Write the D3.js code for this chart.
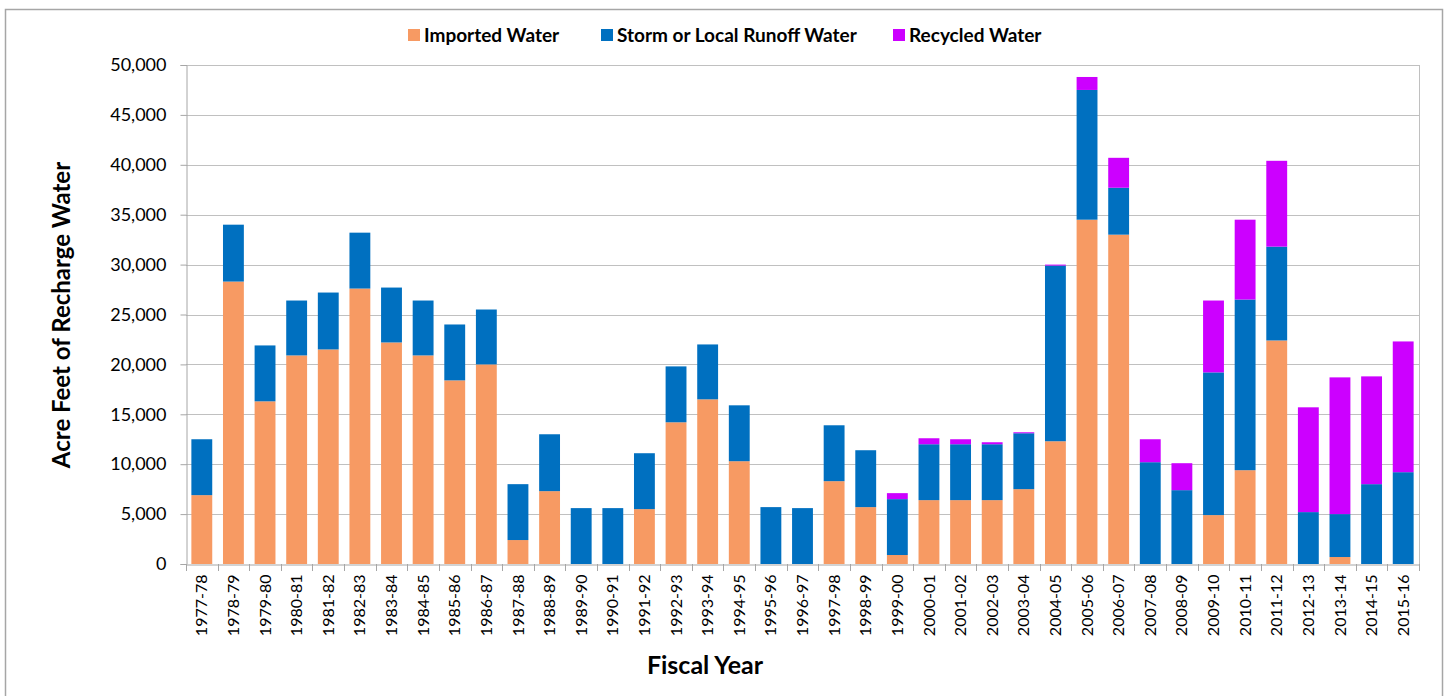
<!DOCTYPE html>
<html>
<head>
<meta charset="utf-8">
<script src="https://cdn.jsdelivr.net/npm/d3@7"></script>
<style>
  body { margin: 0; background: #fff; }
  svg { display: block; font-family: Lato, "Open Sans", sans-serif; }
</style>
</head>
<body>
<div id="chart"></div>
<script>
// fiscal years on the x axis
var years = ["1977-78","1978-79","1979-80","1980-81","1981-82","1982-83","1983-84","1984-85",
  "1985-86","1986-87","1987-88","1988-89","1989-90","1990-91","1991-92","1992-93","1993-94",
  "1994-95","1995-96","1996-97","1997-98","1998-99","1999-00","2000-01","2001-02","2002-03",
  "2003-04","2004-05","2005-06","2006-07","2007-08","2008-09","2009-10","2010-11","2011-12",
  "2012-13","2013-14","2014-15","2015-16"];

// acre feet
var imported = [6900,28300,16300,20900,21500,27600,22200,20900,18400,20000,2400,7300,0,0,5500,
  14200,16500,10300,0,0,8300,5700,900,6400,6400,6400,7500,12300,34500,33000,0,0,4900,9400,22400,
  0,700,0,0];
var storm = [5600,5700,5600,5500,5700,5600,5500,5500,5600,5500,5600,5700,5600,5600,5600,5600,5500,
  5600,5700,5600,5600,5700,5600,5600,5600,5600,5600,17600,13000,4700,10200,7400,14300,17100,9400,
  5200,4300,8000,9200];
var recycled = [0,0,0,0,0,0,0,0,0,0,0,0,0,0,0,0,0,0,0,0,0,0,600,600,500,200,100,100,1300,3000,
  2300,2700,7200,8000,8600,10500,13700,10800,13100];

var seriesNames = ["Imported Water", "Storm or Local Runoff Water", "Recycled Water"];
var colors = ["#F79A63", "#0070C0", "#CC00FF"];
var yTicks = [0,5000,10000,15000,20000,25000,30000,35000,40000,45000,50000];

var W = 1445, H = 696;
var plotL = 186, plotR = 1419, plotT = 65, plotB = 564;

var svg = d3.select("#chart").append("svg")
    .attr("width", W)
    .attr("height", H);

// outer frame
svg.append("rect")
    .attr("x", 5.5).attr("y", 9.5)
    .attr("width", 1437).attr("height", 700)
    .attr("fill", "#fff")
    .attr("stroke", "#a6a6a6")
    .attr("stroke-width", 1.5);

var x = d3.scaleBand().domain(years).range([plotL, plotR]).paddingInner(0.34).paddingOuter(0.17);
var y = d3.scaleLinear().domain([0, 50000]).range([plotB, plotT]);

// gridlines
svg.append("g").selectAll("line")
    .data(yTicks.slice(1))
    .enter().append("line")
    .attr("x1", plotL).attr("x2", plotR)
    .attr("y1", function(d) { return Math.round(y(d)) + 0.5; })
    .attr("y2", function(d) { return Math.round(y(d)) + 0.5; })
    .attr("stroke", "#c0c0c0");

// right border of plot
svg.append("line")
    .attr("x1", plotR + 0.5).attr("x2", plotR + 0.5)
    .attr("y1", plotT).attr("y2", plotB)
    .attr("stroke", "#c0c0c0");

// stacked bars
var rows = years.map(function(yr, i) {
  return { year: yr, imp: imported[i], storm: storm[i], rec: recycled[i] };
});
var stack = d3.stack().keys(["imp", "storm", "rec"])(rows);

svg.append("g").selectAll("g")
    .data(stack)
    .enter().append("g")
    .attr("fill", function(d, i) { return colors[i]; })
    .selectAll("rect")
    .data(function(d) { return d; })
    .enter().append("rect")
    .attr("x", function(d) { return x(d.data.year); })
    .attr("width", x.bandwidth())
    .attr("y", function(d) { return y(d[1]); })
    .attr("height", function(d) { return Math.max(0, y(d[0]) - y(d[1])); });

// y axis
var yAxis = svg.append("g")
    .attr("transform", "translate(" + (plotL + 0.5) + ",0)")
    .call(d3.axisLeft(y).tickValues(yTicks).tickSize(6).tickPadding(14)
      .tickFormat(d3.format(",")));
yAxis.selectAll("path, line").attr("stroke", "#a6a6a6");
yAxis.selectAll("text").attr("font-size", 18).attr("fill", "#000")
    .attr("font-family", "Lato, sans-serif");

// x axis, ticks between the categories
var xAxis = svg.append("g")
    .attr("transform", "translate(0," + (plotB + 0.5) + ")")
    .call(d3.axisBottom(x).tickSize(0).tickPadding(0));
xAxis.select("path").attr("stroke", "#a6a6a6");
xAxis.selectAll("text")
    .attr("font-size", 16)
    .attr("fill", "#000")
    .attr("font-family", "Lato, sans-serif")
    .attr("transform", "rotate(-90)")
    .attr("text-anchor", "end")
    .attr("dx", "-10")
    .attr("dy", "0.35em")
    .attr("y", 0)
    .attr("x", 0);

svg.append("g").selectAll("line")
    .data(d3.range(years.length + 1))
    .enter().append("line")
    .attr("x1", function(i) { return Math.round(plotL + i * (plotR - plotL) / years.length) + 0.5; })
    .attr("x2", function(i) { return Math.round(plotL + i * (plotR - plotL) / years.length) + 0.5; })
    .attr("y1", plotB).attr("y2", plotB + 7)
    .attr("stroke", "#a6a6a6");

// axis titles
svg.append("text")
    .attr("transform", "translate(70,315) rotate(-90)")
    .attr("text-anchor", "middle")
    .attr("font-size", 24)
    .attr("font-weight", "bold")
    .text("Acre Feet of Recharge Water");

svg.append("text")
    .attr("x", 705).attr("y", 674)
    .attr("text-anchor", "middle")
    .attr("font-size", 25)
    .attr("font-weight", "bold")
    .text("Fiscal Year");

// legend
var legX = [408, 601, 893];
var leg = svg.append("g").selectAll("g")
    .data(seriesNames)
    .enter().append("g")
    .attr("transform", function(d, i) { return "translate(" + legX[i] + ",29)"; });
leg.append("rect")
    .attr("width", 12).attr("height", 12)
    .attr("fill", function(d, i) { return colors[i]; });
leg.append("text")
    .attr("x", 16).attr("y", 12.5)
    .attr("font-size", 19)
    .attr("font-weight", "bold")
    .text(function(d) { return d; });
</script>
</body>
</html>
